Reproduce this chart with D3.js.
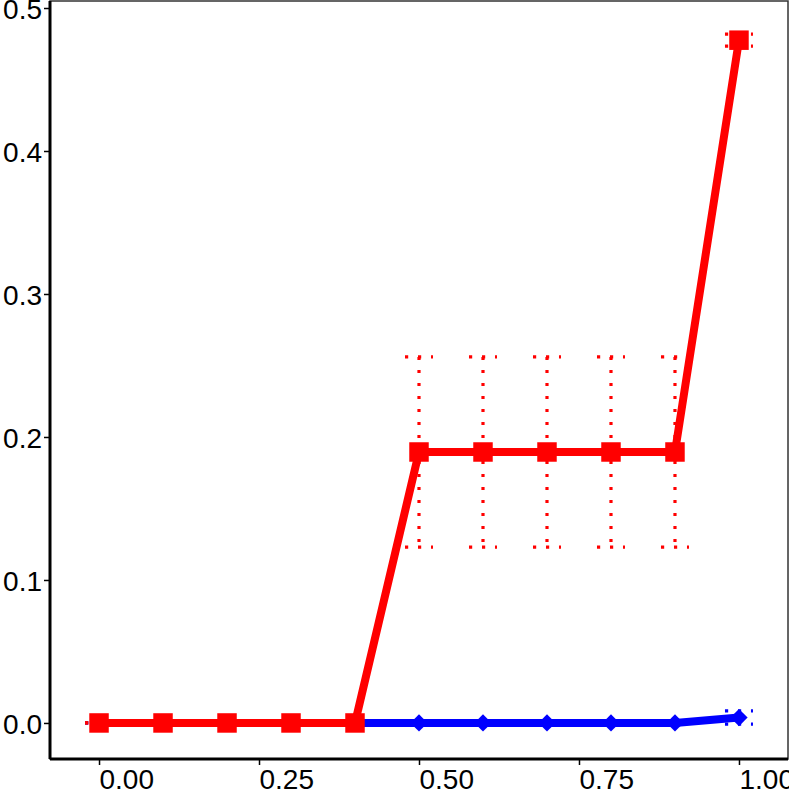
<!DOCTYPE html>
<html>
<head>
<meta charset="utf-8">
<script src="https://cdn.jsdelivr.net/npm/d3@7"></script>
<style>
  html, body { margin: 0; padding: 0; background: #fff; }
  svg { display: block; }
  text { font-family: "Liberation Sans", Arial, Helvetica, sans-serif; }
</style>
</head>
<body>
<svg id="chart" width="789" height="789"></svg>
<script>
// ---- data ----
const xValues = [0, 0.1, 0.2, 0.3, 0.4, 0.5, 0.6, 0.7, 0.8, 0.9, 1.0];
const redMean = [0, 0, 0, 0, 0, 0.1895, 0.1895, 0.1895, 0.1895, 0.1895, 0.4775];
const redSd   = [0, 0, 0, 0, 0, 0.0665, 0.0665, 0.0665, 0.0665, 0.0665, 0.0042];
const blueMean = [0, 0, 0, 0, 0, 0, 0, 0, 0, 0, 0.0038];
const blueSd   = [0, 0, 0, 0, 0, 0, 0, 0, 0, 0, 0.0046];
const xTicks = [0, 0.25, 0.5, 0.75, 1.0];
const yTicks = [0, 0.1, 0.2, 0.3, 0.4, 0.5];

const svg = d3.select("#chart");
const panel = { left: 50, right: 788, top: 1, bottom: 759 };

const x = d3.scaleLinear().domain([-0.0766, 1.0766]).range([panel.left, panel.right]);
const y = d3.scaleLinear().domain([-0.0252, 0.5049]).range([panel.bottom, panel.top]);

// panel background and border
svg.append("rect")
  .attr("x", panel.left).attr("y", panel.top)
  .attr("width", panel.right - panel.left).attr("height", panel.bottom - panel.top)
  .attr("fill", "#fff").attr("stroke", "#333").attr("stroke-width", 1.5);

const series = [
  { name: "blue", color: "#0000ff", mean: blueMean, sd: blueSd, shape: d3.symbolDiamond2, size: 190 },
  { name: "red", color: "#ff0000", mean: redMean, sd: redSd, shape: d3.symbolSquare, size: 380 }
];

const capHalf = 14;
series.forEach(s => {
  const g = svg.append("g");
  const pts = xValues.map((xv, i) => ({ x: xv, m: s.mean[i], sd: s.sd[i] }));
  // error bars (dotted)
  const eb = g.append("g")
    .attr("stroke", s.color).attr("stroke-width", 3.2)
    .attr("stroke-dasharray", "3.2,9.8").attr("fill", "none");
  pts.forEach(p => {
    eb.append("line")
      .attr("x1", x(p.x)).attr("x2", x(p.x))
      .attr("y1", y(p.m + p.sd)).attr("y2", y(p.m - p.sd));
    [p.m + p.sd, p.m - p.sd].forEach(v => {
      eb.append("line")
        .attr("x1", x(p.x) - capHalf).attr("x2", x(p.x) + capHalf)
        .attr("y1", y(v)).attr("y2", y(v));
    });
  });
});

series.forEach(s => {
  const pts = xValues.map((xv, i) => ({ x: xv, m: s.mean[i] }));
  svg.append("path")
    .datum(pts)
    .attr("fill", "none").attr("stroke", s.color).attr("stroke-width", 8)
    .attr("stroke-linejoin", "round")
    .attr("d", d3.line().x(d => x(d.x)).y(d => y(d.m)));
  svg.append("g").selectAll("path")
    .data(pts).join("path")
    .attr("transform", d => `translate(${x(d.x)},${y(d.m)})`)
    .attr("d", d3.symbol().type(s.shape).size(s.size))
    .attr("fill", s.color);
});

// axes
const xAxis = d3.axisBottom(x).tickValues(xTicks).tickFormat(d3.format(".2f")).tickSize(6).tickPadding(4);
const gx = svg.append("g").attr("transform", `translate(0,${panel.bottom})`).call(xAxis);
gx.select(".domain").attr("stroke", "#000").attr("stroke-width", 3)
  .attr("d", `M${panel.left},0H${panel.right}`);
gx.selectAll(".tick line").attr("stroke", "#000").attr("stroke-width", 1.5);
gx.selectAll(".tick text")
  .attr("fill", "#000").attr("font-size", 28)
  .attr("text-anchor", "start").attr("dy", "0.72em").attr("y", 10);

const yAxis = d3.axisLeft(y).tickValues(yTicks).tickFormat(d3.format(".1f")).tickSize(6).tickPadding(2);
const gy = svg.append("g").attr("transform", `translate(${panel.left},0)`).call(yAxis);
gy.select(".domain").attr("stroke", "#000").attr("stroke-width", 3)
  .attr("d", `M0,${panel.top}V${panel.bottom}`);
gy.selectAll(".tick line").attr("stroke", "#000").attr("stroke-width", 1.5);
gy.selectAll(".tick text")
  .attr("fill", "#000").attr("font-size", 28).attr("dy", "0.36em");
gx.attr("font-family", null); gy.attr("font-family", null);
</script>
</body>
</html>
